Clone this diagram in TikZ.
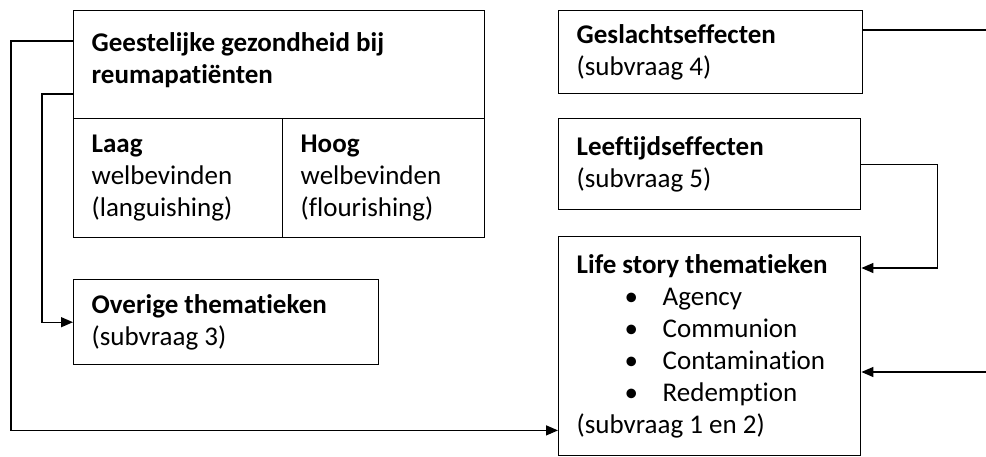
\documentclass[tikz,border=0pt]{standalone}
\usepackage{fontspec}
\setmainfont{Carlito}[Ligatures=NoCommon]
\usetikzlibrary{arrows.meta}

\tikzset{
  box/.style={draw, line width=0.7pt, anchor=north west, align=flush left, inner xsep=9pt, inner ysep=0pt, font=\fontsize{13.5}{16}\selectfont},
  lijn/.style={line width=0.7pt},
  pijl/.style={line width=0.7pt, -{Triangle[length=6pt,width=5pt]}},
}
\newcommand{\punt}[1]{\hspace*{24pt}\makebox[19pt][l]{\textbullet}#1}

\begin{document}
\begin{tikzpicture}[x=0.5pt,y=-0.5pt]
\useasboundingbox (0,0) rectangle (986,456);

% linker kolom
\node[box, text width=187.5pt, minimum height=54pt, text depth=23pt] (geest) at (73,10) {\textbf{Geestelijke gezondheid bij}\\\textbf{reumapatiënten}};
\node[box, text width=86.5pt, minimum height=59.5pt] (laag) at (73,118) {\textbf{Laag}\\welbevinden\\(languishing)};
\node[box, text width=83pt, minimum height=59.5pt] (hoog) at (282,118) {\textbf{Hoog}\\welbevinden\\(flourishing)};
\node[box, text width=134.5pt, minimum height=42.5pt] (overig) at (73,279) {\textbf{Overige thematieken}\\(subvraag 3)};

% rechter kolom
\node[box, text width=134pt, minimum height=41.5pt] (geslacht) at (558,10) {\textbf{Geslachtseffecten}\\(subvraag 4)};
\node[box, text width=133pt, minimum height=45.5pt] (leeftijd) at (558,118) {\textbf{Leeftijdseffecten}\\(subvraag 5)};
\node[box, text width=133pt, minimum height=109.5pt] (lifestory) at (558,236) {\textbf{Life story thematieken}\\\punt{Agency}\\\punt{Communion}\\\punt{Contamination}\\\punt{Redemption}\\(subvraag 1 en 2)};

\coordinate (rand1) at (986,30);
\coordinate (rand2) at (986,372);

\draw[pijl] ([yshift=-15.5pt]geest.north west) -- ++(-62,0) |- ([yshift=13pt]lifestory.south west);
\draw[pijl] ([yshift=-42pt]geest.north west) -- ++(-31,0) |- (overig.west);
\draw[lijn] (geslacht.east |- rand1) -- (rand1);
\draw[pijl] (leeftijd.east) -- ++(76,0) |- ([yshift=-16pt]lifestory.north east);
\draw[pijl] (rand2) -- (lifestory.east |- rand2);

\end{tikzpicture}
\end{document}
